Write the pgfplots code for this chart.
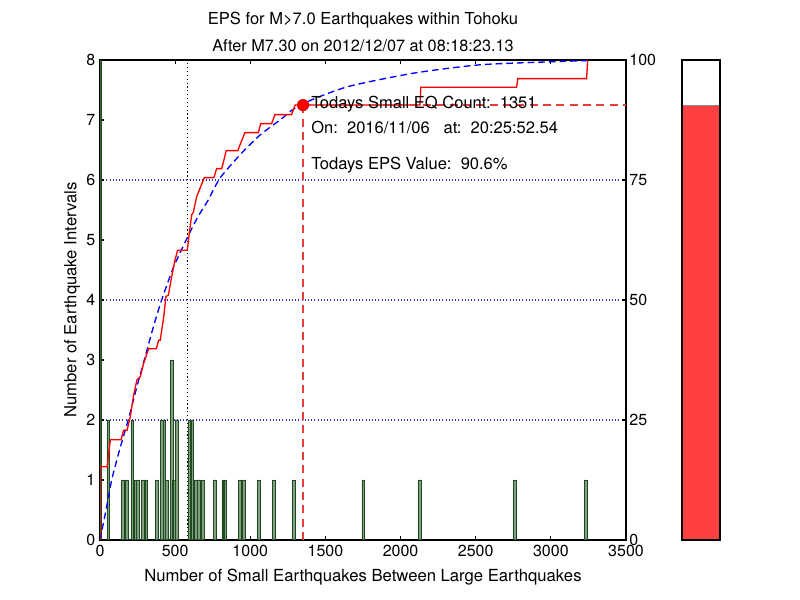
\documentclass[border=0pt]{standalone}
\usepackage{fontspec}
\setmainfont{TeX Gyre Heros}
\usepackage{pgfplots}
\pgfplotsset{compat=1.18}
\definecolor{bargreen}{RGB}{90,125,90}
\definecolor{baredge}{RGB}{30,75,30}
\definecolor{barred}{RGB}{255,64,64}
\definecolor{gridblue}{RGB}{50,50,200}
\definecolor{dashred}{RGB}{235,60,60}
\begin{document}
\begin{tikzpicture}
\path[use as bounding box] (0pt,0pt) rectangle (600pt,450pt);
% right-hand percentage axis with grid
\begin{axis}[at={(75pt,45pt)}, anchor=south west, scale only axis,
  width=394.5pt, height=360pt,
  xmin=0, xmax=3500, ymin=0, ymax=100,
  axis x line=none, axis y line*=right,
  ytick={0,25,50,75,100}, ymajorgrids,
  grid style={gridblue, dotted, line width=0.9pt},
  tick align=inside, major tick length=3pt,
  tick style={black, line width=0.8pt},
  axis line style={line width=1pt},
  /pgf/number format/assume math mode=true,
  /pgf/number format/1000 sep={},
  tick label style={font=\fontsize{12}{14}\selectfont},
  yticklabel style={xshift=-1pt}]
\addplot[draw=none] coordinates {(0,0)};
\end{axis}
% main axis
\begin{axis}[at={(75pt,45pt)}, anchor=south west, scale only axis,
  width=394.5pt, height=360pt,
  xmin=0, xmax=3500, ymin=0, ymax=8,
  xtick={0,500,...,3500}, ytick={0,1,...,8},
  xtick pos=both, ytick pos=left,
  tick align=inside, major tick length=3pt,
  tick style={black, line width=0.8pt},
  axis line style={line width=1pt},
  /pgf/number format/assume math mode=true,
  /pgf/number format/1000 sep={},
  tick label style={font=\fontsize{12}{14}\selectfont},
  clip=true]
% histogram of intervals
\addplot[ybar, bar width=19, fill=bargreen, fill opacity=0.75, draw=baredge, line width=0.4pt]
 coordinates {
 (0,8) (55,2) (150,1) (178,1) (215,2) (235,1) (250,1) (285,1) (308,1)
 (378,1) (410,2) (428,2) (445,1) (477,3) (492,1) (509,2) (595,2) (610,2)
 (637,1) (657,1) (684,1) (763,1) (820,1) (828,1) (931,1) (959,1) (1059,1)
 (1158,1) (1288,1) (1752,1) (2125,1) (2761,1) (3232,1)
 };
% median line
\addplot[black, dotted, line width=0.9pt] coordinates {(583,0) (583,8)};
% fitted curve
\addplot[blue, dashed, line width=1pt, dash pattern=on 5pt off 3pt, smooth, tension=0.4]
 coordinates {
 (0,0) (40,0.5) (78,1.0) (130,1.5) (188,2.0) (245,2.55) (300,3.05) (355,3.55)
 (410,4.0) (490,4.55) (583,5.05) (650,5.38) (721,5.67) (798,6.03) (932,6.42)
 (1065,6.75) (1198,7.0) (1331,7.25) (1641,7.55) (2085,7.78) (2528,7.92)
 (3000,7.97) (3238,7.99)
 };
% empirical cumulative line
\addplot[red, line width=1pt] coordinates {
 (0,0) (0,1.22) (47,1.22) (69,1.67) (140,1.67) (157,1.83) (180,1.83) (202,2.06)
 (224,2.42) (246,2.67) (268,2.72) (290,2.94) (324,3.19) (375,3.19) (390,3.33)
 (401,3.33) (424,3.72) (439,4.06) (455,4.08) (477,4.39) (499,4.67) (517,4.83)
 (581,4.83) (594,5.11) (610,5.42) (621,5.46) (643,5.72) (694,6.04) (758,6.04)
 (776,6.19) (810,6.19) (840,6.49) (917,6.49) (940,6.64) (965,6.79) (1054,6.79)
 (1069,6.94) (1142,6.94) (1164,7.09) (1275,7.09) (1298,7.25) (2129,7.25)
 (2135,7.545) (2772,7.545) (2780,7.69) (3238,7.69) (3245,8.0)
 };
% today's markers
\addplot[dashred, line width=1.2pt, dash pattern=on 6pt off 4pt] coordinates {(1351,0) (1351,7.248)};
\addplot[dashred, line width=1.2pt, dash pattern=on 6pt off 4pt] coordinates {(1351,7.248) (3500,7.248)};
\addplot[only marks, mark=*, mark size=4.3pt, color=red, mark options={draw=red!75!black, line width=0.4pt}] coordinates {(1351,7.248)};
\node[anchor=west, inner sep=0pt, font=\fontsize{12.4}{14}\selectfont] at (axis cs:1404,7.27) {Todays Small EQ Count:\ \ 1351};
\node[anchor=west, inner sep=0pt, font=\fontsize{12.4}{14}\selectfont] at (axis cs:1404,6.87) {On:\ \ 2016/11/06\ \ \ at:\ \ 20:25:52.54};
\node[anchor=west, inner sep=0pt, font=\fontsize{12.4}{14}\selectfont] at (axis cs:1404,6.25) {Todays EPS Value:\ \ 90.6\%};
\end{axis}
% EPS thermometer bar
\begin{axis}[at={(511.5pt,45pt)}, anchor=south west, scale only axis,
  width=28.5pt, height=360pt,
  xmin=0, xmax=1, ymin=0, ymax=100,
  xtick=\empty, ytick=\empty, axis on top,
  axis line style={line width=1pt}]
\addplot[fill=barred, draw=none] coordinates {(0,0) (0,90.6) (1,90.6) (1,0)} \closedcycle;
\addplot[black!45, line width=0.6pt] coordinates {(0,90.6) (1,90.6)};
\end{axis}
% titles and labels
\node[font=\fontsize{12.4}{15}\selectfont] at (272.25pt,435pt) {EPS for M>7.0 Earthquakes within Tohoku};
\node[font=\fontsize{12.2}{14}\selectfont] at (272.25pt,415.5pt) {After M7.30 on 2012/12/07 at 08:18:23.13};
\node[font=\fontsize{12.5}{14}\selectfont] at (272.25pt,17.25pt) {Number of Small Earthquakes Between Large Earthquakes};
\node[font=\fontsize{12.5}{14}\selectfont, rotate=90] at (54pt,225pt) {Number of Earthquake Intervals};
\end{tikzpicture}
\end{document}
